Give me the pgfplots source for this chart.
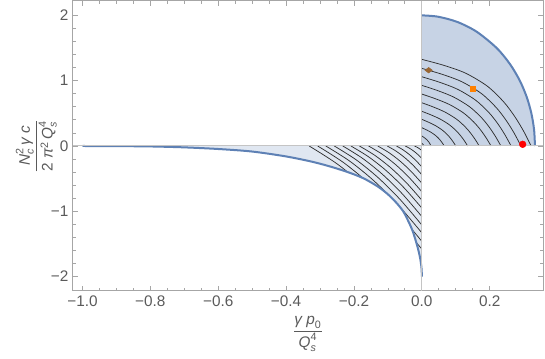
\documentclass[border=0pt]{standalone}
\usepackage{fontspec}
\setmainfont{Liberation Sans}
\usepackage{amsmath}
\usepackage{pgfplots}
\pgfplotsset{compat=1.18}
\definecolor{frm}{HTML}{A6A6A6}
\definecolor{lbl}{HTML}{5A5A5A}
\definecolor{crv}{HTML}{5E81B5}
\definecolor{upfill}{HTML}{C7D3E5}
\definecolor{lofill}{HTML}{E0E7F1}
\definecolor{hk}{HTML}{2E2E2E}
\definecolor{axl}{HTML}{C4C4C4}
\definecolor{brn}{HTML}{996633}
\definecolor{org}{HTML}{FF8000}
\newcommand{\ti}[1]{\text{\itshape #1}}
\begin{document}
\begin{tikzpicture}
\begin{axis}[
  scale only axis, width=352.5pt, height=217.5pt,
  xmin=-1.028, xmax=0.357, ymin=-2.22, ymax=2.22,
  axis line style={frm, line width=0.75pt},
  xtick={-1,-0.8,-0.6,-0.4,-0.2,0,0.2},
  xticklabels={−1.0,−0.8,−0.6,−0.4,−0.2,0.0,0.2},
  ytick={-2,-1,0,1,2}, yticklabels={−2,−1,0,1,2},
  minor x tick num=3, minor y tick num=4,
  tick align=inside, tick pos=both,
  xticklabel pos=lower, yticklabel pos=left,
  major tick length=3.8pt, minor tick length=2.2pt,
  tick style={frm, line width=0.6pt},
  tick label style={lbl, font=\fontsize{11.5}{13}\selectfont},
  label style={lbl, font=\fontsize{11.5}{13}\selectfont},
  xlabel={$\dfrac{\ti{γ p}_{\text{0}}}{\ti{Q}_{\ti{s}}^{\text{4}}}$},
  ylabel={$\dfrac{\ti{N}_{\ti{c}}^{\text{2}}\,\ti{γ c}}{\text{2 }\ti{π}^{\text{2}}\,\ti{Q}_{\ti{s}}^{\text{4}}}$},
  xlabel style={at={(axis description cs:0.5,-0.148)}, anchor=center},
  ylabel style={at={(axis description cs:-0.078,0.5)}, anchor=center},
]
% lower region fill
\addplot[draw=none, fill=lofill, smooth] coordinates {
  (-1,0) (-0.9,-0.002) (-0.8,-0.007) (-0.7,-0.021) (-0.6,-0.046) (-0.5,-0.085)
  (-0.4,-0.16) (-0.32,-0.245) (-0.26,-0.33) (-0.21,-0.415) (-0.17,-0.50)
  (-0.13,-0.62) (-0.1,-0.74) (-0.075,-0.87) (-0.055,-1.0) (-0.04,-1.15)
  (-0.028,-1.29) (-0.018,-1.45) (-0.010,-1.60) (-0.005,-1.72) (-0.0018,-1.83)
  (-0.0004,-1.92) (0,-2)
} \closedcycle;
% upper region fill
\addplot[draw=none, fill=upfill, smooth] coordinates {
  (0,2) (0.047,1.98) (0.1041,1.9) (0.1614,1.75) (0.2205,1.5) (0.2602,1.25)
  (0.2887,1) (0.3090,0.75) (0.3227,0.5) (0.3307,0.25) (0.3333,0)
} \closedcycle;
% hatch curves, upper right
\pgfplotsset{hatch/.style={hk, line width=0.55pt, smooth, no marks}}
\addplot[hatch] coordinates {(0,1.326) (0.0644,1.2353) (0.1288,1.1150) (0.1932,0.9148) (0.2415,0.6732) (0.2737,0.4510) (0.2995,0.2299) (0.322,0)};
\addplot[hatch] coordinates {(0,1.188) (0.0584,1.0997) (0.1168,0.9862) (0.1752,0.8042) (0.219,0.5894) (0.2482,0.3939) (0.2716,0.2005) (0.292,0)};
\addplot[hatch] coordinates {(0,1.060) (0.0526,0.975) (0.1052,0.8685) (0.1578,0.7037) (0.1973,0.5137) (0.2236,0.3425) (0.2446,0.1739) (0.263,0)};
\addplot[hatch] coordinates {(0,0.928) (0.0466,0.8481) (0.0932,0.7503) (0.1398,0.6041) (0.1748,0.4390) (0.1981,0.2919) (0.2167,0.1480) (0.233,0)};
\addplot[hatch] coordinates {(0,0.795) (0.0408,0.7219) (0.0816,0.6342) (0.1224,0.5072) (0.153,0.3669) (0.1734,0.2433) (0.1897,0.1231) (0.204,0)};
\addplot[hatch] coordinates {(0,0.662) (0.0338,0.5972) (0.0676,0.5209) (0.1014,0.4138) (0.1268,0.2979) (0.1437,0.1970) (0.1572,0.0994) (0.169,0)};
\addplot[hatch] coordinates {(0,0.531) (0.027,0.4759) (0.054,0.4121) (0.081,0.3250) (0.1013,0.2328) (0.1148,0.1535) (0.1256,0.0773) (0.135,0)};
\addplot[hatch] coordinates {(0,0.408) (0.02,0.3632) (0.04,0.3123) (0.06,0.2444) (0.075,0.1742) (0.085,0.1144) (0.093,0.0575) (0.1,0)};
\addplot[hatch] coordinates {(0,0.280) (0.0132,0.2476) (0.0264,0.2113) (0.0396,0.1641) (0.0495,0.1163) (0.0561,0.0762) (0.0614,0.0382) (0.066,0)};
\addplot[hatch] coordinates {(0,0.153) (0.0054,0.1344) (0.0108,0.1138) (0.0162,0.0877) (0.0203,0.0618) (0.0230,0.0403) (0.0251,0.0202) (0.027,0)};
\addplot[hatch] coordinates {(0,0.041) (0.0024,0.030) (0.0045,0.016) (0.006,0)};
% hatch curves, lower left
\addplot[hatch] coordinates {(-0.022,0) (-0.0165,-0.0123) (-0.011,-0.028) (-0.0055,-0.0473) (0,-0.07)};
\addplot[hatch] coordinates {(-0.049,0) (-0.0368,-0.0333) (-0.0245,-0.076) (-0.0123,-0.1283) (0,-0.19)};
\addplot[hatch] coordinates {(-0.075,0) (-0.0563,-0.056) (-0.0375,-0.128) (-0.0188,-0.216) (0,-0.32)};
\addplot[hatch] coordinates {(-0.102,0) (-0.0765,-0.077) (-0.051,-0.176) (-0.0255,-0.297) (0,-0.44)};
\addplot[hatch] coordinates {(-0.130,0) (-0.0975,-0.0998) (-0.065,-0.228) (-0.0325,-0.3848) (0,-0.57)};
\addplot[hatch] coordinates {(-0.157,0) (-0.1178,-0.1225) (-0.0785,-0.28) (-0.0393,-0.4725) (0,-0.70)};
\addplot[hatch] coordinates {(-0.184,0) (-0.138,-0.1453) (-0.092,-0.332) (-0.046,-0.5603) (0,-0.83)};
\addplot[hatch] coordinates {(-0.209,0) (-0.1568,-0.1663) (-0.1045,-0.38) (-0.0523,-0.6413) (0,-0.95)};
\addplot[hatch] coordinates {(-0.233,0) (-0.1748,-0.189) (-0.1165,-0.432) (-0.0583,-0.729) (0,-1.08)};
\addplot[hatch] coordinates {(-0.258,0) (-0.1935,-0.2118) (-0.129,-0.484) (-0.0645,-0.8168) (0,-1.21)};
\addplot[hatch] coordinates {(-0.283,0) (-0.2123,-0.2328) (-0.1415,-0.532) (-0.0708,-0.8978) (0,-1.33)};
\addplot[hatch] coordinates {(-0.307,0) (-0.2303,-0.2555) (-0.1535,-0.584) (-0.0768,-0.9855) (0,-1.46)};
\addplot[hatch] coordinates {(-0.332,0) (-0.249,-0.2765) (-0.166,-0.632) (-0.083,-1.0665) (0,-1.58)};
% mask below the lower curve, kept clear of the frame ticks
\addplot[draw=none, fill=white] coordinates {
  (-0.39,-0.17) (-0.32,-0.245) (-0.26,-0.33) (-0.21,-0.415) (-0.17,-0.50)
  (-0.13,-0.62) (-0.1,-0.74) (-0.075,-0.87) (-0.055,-1.0) (-0.04,-1.15)
  (-0.028,-1.29) (-0.018,-1.45) (-0.010,-1.60) (-0.005,-1.72) (-0.0018,-1.83)
  (-0.0004,-1.92) (0,-2) (0,-2.1) (-0.39,-2.1)
} -- cycle;
% boundary curves
\addplot[crv, line width=1.5pt, smooth, no marks] coordinates {
  (-1,0) (-0.9,-0.002) (-0.8,-0.007) (-0.7,-0.021) (-0.6,-0.046) (-0.5,-0.085)
  (-0.4,-0.16) (-0.32,-0.245) (-0.26,-0.33) (-0.21,-0.415) (-0.17,-0.50)
  (-0.13,-0.62) (-0.1,-0.74) (-0.075,-0.87) (-0.055,-1.0) (-0.04,-1.15)
  (-0.028,-1.29) (-0.018,-1.45) (-0.010,-1.60) (-0.005,-1.72) (-0.0018,-1.83)
  (-0.0004,-1.92) (0,-2)
};
\addplot[crv, line width=1.5pt, smooth, no marks] coordinates {
  (0,2) (0.047,1.98) (0.1041,1.9) (0.1614,1.75) (0.2205,1.5) (0.2602,1.25)
  (0.2887,1) (0.3090,0.75) (0.3227,0.5) (0.3307,0.25) (0.3333,0)
};
% axes through the origin
\draw[axl, line width=0.75pt] (axis cs:-1.028,0) -- (axis cs:0.357,0);
\draw[axl, line width=0.75pt] (axis cs:0,-2.22) -- (axis cs:0,2.22);
% points on one trajectory
\addplot[only marks, mark=diamond*, mark size=2.75pt, mark options={draw=brn, fill=brn, rotate=90}] coordinates {(0.02,1.16)};
\addplot[only marks, mark=square*, mark size=1.9pt, mark options={draw=org, fill=org}] coordinates {(0.150,0.88)};
\addplot[only marks, mark=*, mark size=2.5pt, mark options={draw=red, fill=red}] coordinates {(0.297,0.026)};
\end{axis}
\pgfresetboundingbox
\path[use as bounding box] (-54.75pt,-51pt) rectangle (354pt,218.25pt);
\end{tikzpicture}
\end{document}
